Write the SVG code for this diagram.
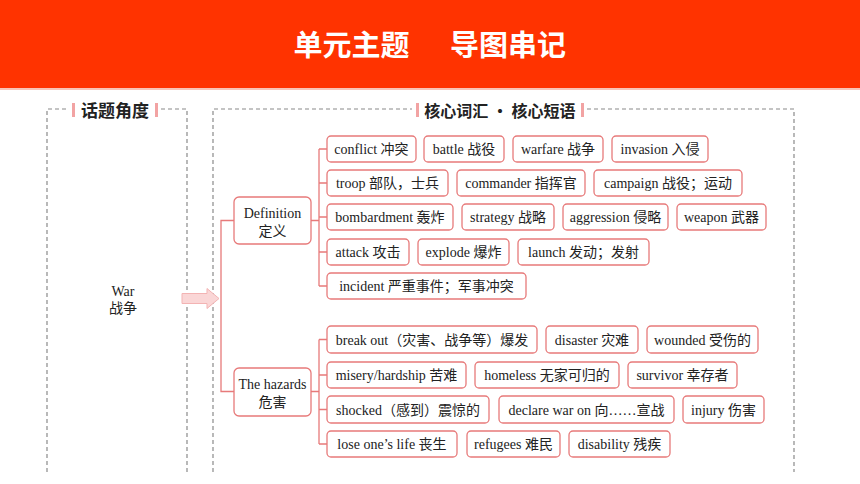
<svg xmlns="http://www.w3.org/2000/svg" width="860" height="484" viewBox="0 0 860 484">
<defs>
<style>
.hdr{font-family:"Noto Sans CJK SC","Noto Sans",sans-serif;font-weight:700;font-size:29px;fill:#fff}
.ttl{font-family:"Noto Sans CJK SC","Noto Sans",sans-serif;font-weight:700;font-size:17px;fill:#222}
.ttl2{font-family:"Noto Sans CJK SC","Noto Sans",sans-serif;font-weight:700;font-size:16px;fill:#222}
.dash{fill:none;stroke:#8a8a8a;stroke-width:1.2;stroke-dasharray:4 3}
.bar{fill:#f2a3a3}
.box{fill:#fff;stroke:#e77a7a;stroke-width:1.3}
.t{font-family:"Liberation Serif","Noto Sans CJK SC",serif;font-size:14px;fill:#222;text-anchor:middle}
.tm{font-family:"Liberation Serif","Noto Sans CJK SC",serif;font-size:14px;fill:#222;text-anchor:middle}
.ln{fill:none;stroke:#e77a7a;stroke-width:1.3}
</style>
</defs>
<rect x="0" y="0" width="860" height="88" fill="#ff3300"/>
<rect x="0" y="88" width="860" height="2" fill="#f9c4b6"/>
<text class="hdr" y="56"><tspan x="351.5" text-anchor="middle">单元主题</tspan><tspan x="508" text-anchor="middle">导图串记</tspan></text>

<g id="panel-left">
<path class="dash" d="M47 472 V109 H68 M161 109 H187 V472"/>
<rect class="bar" x="72" y="103" width="3" height="14"/>
<rect class="bar" x="155" y="103" width="3" height="14"/>
<text class="ttl" x="115" y="117" text-anchor="middle">话题角度</text>
</g>
<g id="panel-right">
<path class="dash" d="M213 472 V109 H412 M587 109 H794 V472"/>
<rect class="bar" x="416" y="103" width="3" height="14"/>
<rect class="bar" x="581" y="103" width="3" height="14"/>
<text class="ttl2" x="500" y="117" text-anchor="middle">核心词汇 · 核心短语</text>
</g>

<g id="war">
<text class="tm" x="123" y="296">War</text>
<text class="tm" x="123" y="313">战争</text>
</g>

<g id="connectors">
<path d="M182 293.5 H207 V288.5 L219 298.5 L207 308.5 V303.5 H182 Z" fill="#fad6d6" stroke="#f3b3b3" stroke-width="1"/>
<path class="ln" d="M234 220.5 H221 V391.5 H234"/>
<path class="ln" d="M311 220.5 H319 M319 149 V286 M319 149 H327 M319 183 H327 M319 217 H327 M319 252 H327 M319 286 H327"/>
<path class="ln" d="M311 391.5 H319 M319 339.5 V444 M319 339.5 H327 M319 375 H327 M319 409.5 H327 M319 444 H327"/>
</g>

<g id="definition">
<rect class="box" x="234" y="197" width="77" height="47" rx="5"/>
<text class="tm" x="272.5" y="218">Definition</text>
<text class="tm" x="272.5" y="236">定义</text>
</g>
<g id="hazards">
<rect class="box" x="234" y="368" width="77" height="48" rx="5"/>
<text class="tm" x="272.5" y="389">The hazards</text>
<text class="tm" x="272.5" y="407">危害</text>
</g>

<g id="d-row1">
<rect class="box" x="327" y="136" width="89" height="26" rx="4"/><text class="t" x="371.5" y="154">conflict 冲突</text>
<rect class="box" x="424" y="136" width="80" height="26" rx="4"/><text class="t" x="464" y="154">battle 战役</text>
<rect class="box" x="513" y="136" width="90" height="26" rx="4"/><text class="t" x="558" y="154">warfare 战争</text>
<rect class="box" x="612" y="136" width="96" height="26" rx="4"/><text class="t" x="660" y="154">invasion 入侵</text>
</g>
<g id="d-row2">
<rect class="box" x="327" y="170" width="121" height="26" rx="4"/><text class="t" x="387.5" y="188">troop 部队，士兵</text>
<rect class="box" x="457" y="170" width="128" height="26" rx="4"/><text class="t" x="521" y="188">commander 指挥官</text>
<rect class="box" x="594" y="170" width="148" height="26" rx="4"/><text class="t" x="668" y="188">campaign 战役；运动</text>
</g>
<g id="d-row3">
<rect class="box" x="327" y="204" width="126" height="26" rx="4"/><text class="t" x="390" y="222">bombardment 轰炸</text>
<rect class="box" x="462" y="204" width="92" height="26" rx="4"/><text class="t" x="508" y="222">strategy 战略</text>
<rect class="box" x="563" y="204" width="105" height="26" rx="4"/><text class="t" x="615.5" y="222">aggression 侵略</text>
<rect class="box" x="677" y="204" width="89" height="26" rx="4"/><text class="t" x="721.5" y="222">weapon 武器</text>
</g>
<g id="d-row4">
<rect class="box" x="327" y="239" width="82" height="26" rx="4"/><text class="t" x="368" y="257">attack 攻击</text>
<rect class="box" x="418" y="239" width="91" height="26" rx="4"/><text class="t" x="463.5" y="257">explode 爆炸</text>
<rect class="box" x="518" y="239" width="131" height="26" rx="4"/><text class="t" x="583.5" y="257">launch 发动；发射</text>
</g>
<g id="d-row5">
<rect class="box" x="327" y="273" width="199" height="26" rx="4"/><text class="t" x="426.5" y="291">incident 严重事件；军事冲突</text>
</g>

<g id="h-row1">
<rect class="box" x="327" y="326" width="210" height="27" rx="4"/><text class="t" x="432" y="344.5">break out（灾害、战争等）爆发</text>
<rect class="box" x="546" y="326" width="92" height="27" rx="4"/><text class="t" x="592" y="344.5">disaster 灾难</text>
<rect class="box" x="647" y="326" width="111" height="27" rx="4"/><text class="t" x="702.5" y="344.5">wounded 受伤的</text>
</g>
<g id="h-row2">
<rect class="box" x="327" y="362" width="139" height="26" rx="4"/><text class="t" x="396.5" y="380">misery/hardship 苦难</text>
<rect class="box" x="475" y="362" width="144" height="26" rx="4"/><text class="t" x="547" y="380">homeless 无家可归的</text>
<rect class="box" x="628" y="362" width="109" height="26" rx="4"/><text class="t" x="682.5" y="380">survivor 幸存者</text>
</g>
<g id="h-row3">
<rect class="box" x="327" y="396" width="162" height="27" rx="4"/><text class="t" x="408" y="414.5">shocked（感到）震惊的</text>
<rect class="box" x="499" y="396" width="175" height="27" rx="4"/><text class="t" x="586.5" y="414.5">declare war on 向……宣战</text>
<rect class="box" x="683" y="396" width="81" height="27" rx="4"/><text class="t" x="723.5" y="414.5">injury 伤害</text>
</g>
<g id="h-row4">
<rect class="box" x="327" y="431" width="130" height="26" rx="4"/><text class="t" x="392" y="449">lose one’s life 丧生</text>
<rect class="box" x="467" y="431" width="93" height="26" rx="4"/><text class="t" x="513.5" y="449">refugees 难民</text>
<rect class="box" x="569" y="431" width="101" height="26" rx="4"/><text class="t" x="619.5" y="449">disability 残疾</text>
</g>
</svg>
